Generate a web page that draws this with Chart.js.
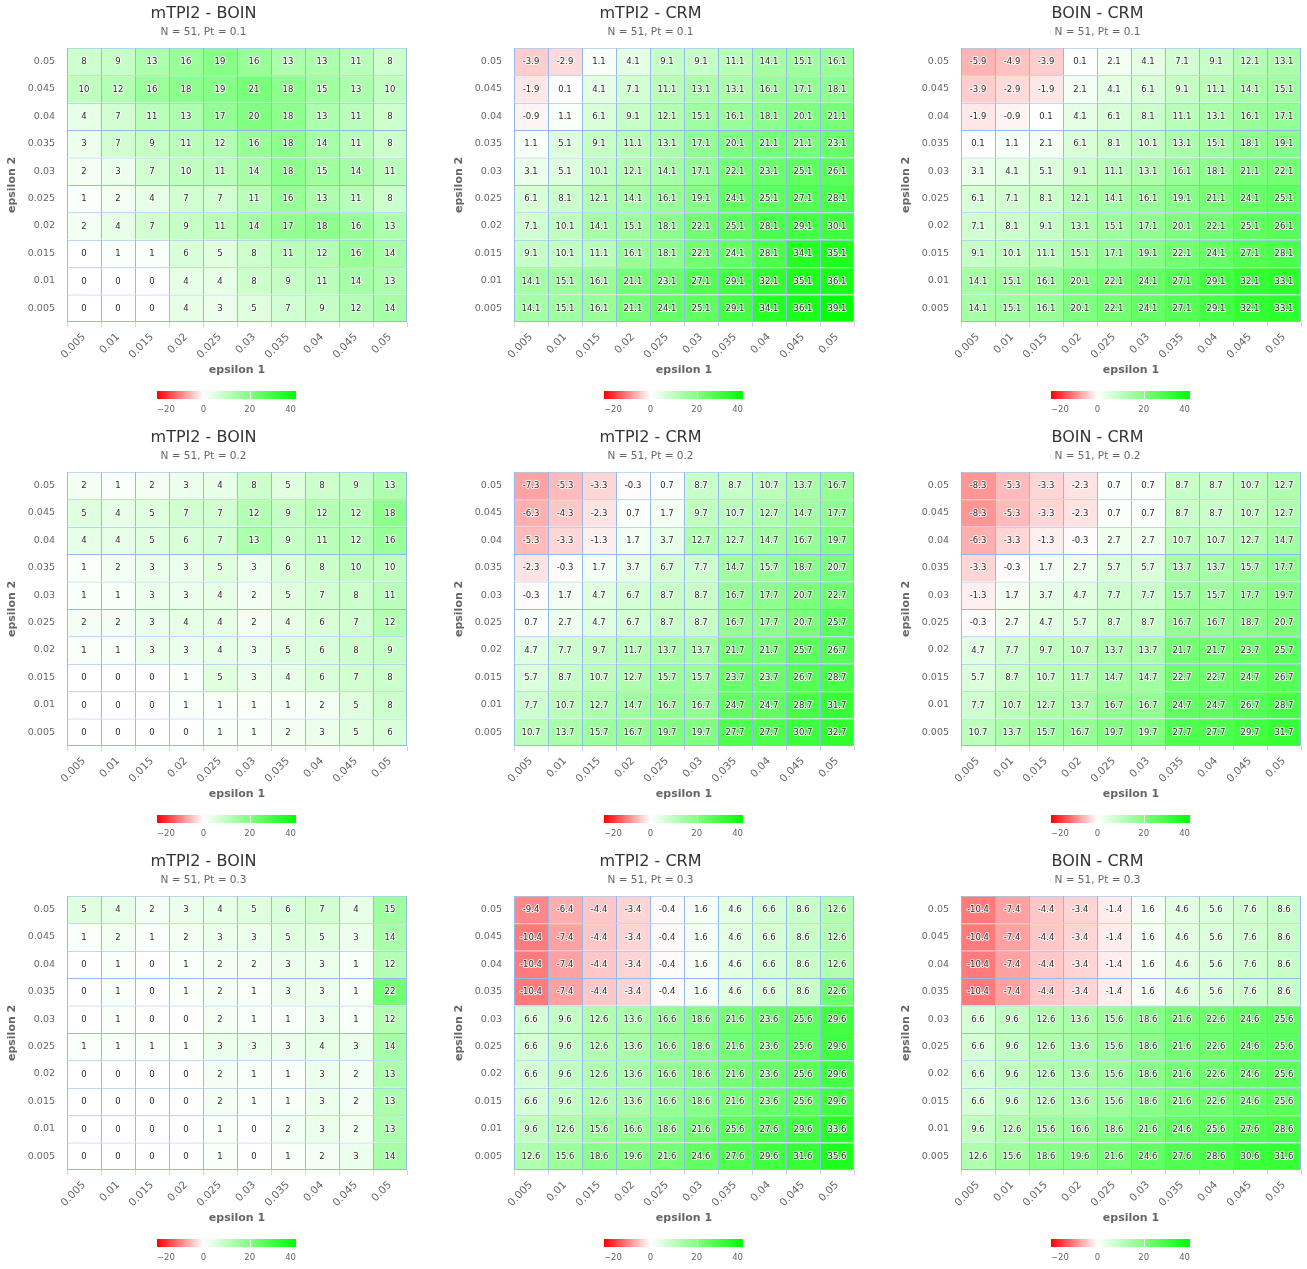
<!DOCTYPE html>
<html>
<head>
<meta charset="utf-8">
<script src="https://cdn.jsdelivr.net/npm/chart.js@4.4.1/dist/chart.umd.min.js"></script>
<style>
  html, body { margin: 0; padding: 0; background: #fff; overflow: hidden; width: 1307px; height: 1269px; }
  canvas { position: absolute; }
</style>
</head>
<body>
<script>
// axis categories
const eps1 = ['0.005', '0.01', '0.015', '0.02', '0.025', '0.03', '0.035', '0.04', '0.045', '0.05'];
const eps2 = ['0.005', '0.01', '0.015', '0.02', '0.025', '0.03', '0.035', '0.04', '0.045', '0.05']; // bottom -> top
const legendTicks = [-20, 0, 20, 40];
const colorMin = -20, colorMax = 40;

const titles = ['mTPI2 - BOIN', 'mTPI2 - CRM', 'BOIN - CRM'];
const subtitles = ['N = 51, Pt = 0.1', 'N = 51, Pt = 0.2', 'N = 51, Pt = 0.3'];

// rows listed top (epsilon 2 = 0.05) to bottom (0.005)
const mtpiBoin1 = [
  [8, 9, 13, 16, 19, 16, 13, 13, 11, 8],
  [10, 12, 16, 18, 19, 21, 18, 15, 13, 10],
  [4, 7, 11, 13, 17, 20, 18, 13, 11, 8],
  [3, 7, 9, 11, 12, 16, 18, 14, 11, 8],
  [2, 3, 7, 10, 11, 14, 18, 15, 14, 11],
  [1, 2, 4, 7, 7, 11, 16, 13, 11, 8],
  [2, 4, 7, 9, 11, 14, 17, 18, 16, 13],
  [0, 1, 1, 6, 5, 8, 11, 12, 16, 14],
  [0, 0, 0, 4, 4, 8, 9, 11, 14, 13],
  [0, 0, 0, 4, 3, 5, 7, 9, 12, 14]
];
const mtpiCrm1 = [
  [-3.9, -2.9, 1.1, 4.1, 9.1, 9.1, 11.1, 14.1, 15.1, 16.1],
  [-1.9, 0.1, 4.1, 7.1, 11.1, 13.1, 13.1, 16.1, 17.1, 18.1],
  [-0.9, 1.1, 6.1, 9.1, 12.1, 15.1, 16.1, 18.1, 20.1, 21.1],
  [1.1, 5.1, 9.1, 11.1, 13.1, 17.1, 20.1, 21.1, 21.1, 23.1],
  [3.1, 5.1, 10.1, 12.1, 14.1, 17.1, 22.1, 23.1, 25.1, 26.1],
  [6.1, 8.1, 12.1, 14.1, 16.1, 19.1, 24.1, 25.1, 27.1, 28.1],
  [7.1, 10.1, 14.1, 15.1, 18.1, 22.1, 25.1, 28.1, 29.1, 30.1],
  [9.1, 10.1, 11.1, 16.1, 18.1, 22.1, 24.1, 28.1, 34.1, 35.1],
  [14.1, 15.1, 16.1, 21.1, 23.1, 27.1, 29.1, 32.1, 35.1, 36.1],
  [14.1, 15.1, 16.1, 21.1, 24.1, 25.1, 29.1, 34.1, 36.1, 39.1]
];
const boinCrm1 = [
  [-5.9, -4.9, -3.9, 0.1, 2.1, 4.1, 7.1, 9.1, 12.1, 13.1],
  [-3.9, -2.9, -1.9, 2.1, 4.1, 6.1, 9.1, 11.1, 14.1, 15.1],
  [-1.9, -0.9, 0.1, 4.1, 6.1, 8.1, 11.1, 13.1, 16.1, 17.1],
  [0.1, 1.1, 2.1, 6.1, 8.1, 10.1, 13.1, 15.1, 18.1, 19.1],
  [3.1, 4.1, 5.1, 9.1, 11.1, 13.1, 16.1, 18.1, 21.1, 22.1],
  [6.1, 7.1, 8.1, 12.1, 14.1, 16.1, 19.1, 21.1, 24.1, 25.1],
  [7.1, 8.1, 9.1, 13.1, 15.1, 17.1, 20.1, 22.1, 25.1, 26.1],
  [9.1, 10.1, 11.1, 15.1, 17.1, 19.1, 22.1, 24.1, 27.1, 28.1],
  [14.1, 15.1, 16.1, 20.1, 22.1, 24.1, 27.1, 29.1, 32.1, 33.1],
  [14.1, 15.1, 16.1, 20.1, 22.1, 24.1, 27.1, 29.1, 32.1, 33.1]
];
const mtpiBoin2 = [
  [2, 1, 2, 3, 4, 8, 5, 8, 9, 13],
  [5, 4, 5, 7, 7, 12, 9, 12, 12, 18],
  [4, 4, 5, 6, 7, 13, 9, 11, 12, 16],
  [1, 2, 3, 3, 5, 3, 6, 8, 10, 10],
  [1, 1, 3, 3, 4, 2, 5, 7, 8, 11],
  [2, 2, 3, 4, 4, 2, 4, 6, 7, 12],
  [1, 1, 3, 3, 4, 3, 5, 6, 8, 9],
  [0, 0, 0, 1, 5, 3, 4, 6, 7, 8],
  [0, 0, 0, 1, 1, 1, 1, 2, 5, 8],
  [0, 0, 0, 0, 1, 1, 2, 3, 5, 6]
];
const mtpiCrm2 = [
  [-7.3, -5.3, -3.3, -0.3, 0.7, 8.7, 8.7, 10.7, 13.7, 16.7],
  [-6.3, -4.3, -2.3, 0.7, 1.7, 9.7, 10.7, 12.7, 14.7, 17.7],
  [-5.3, -3.3, -1.3, 1.7, 3.7, 12.7, 12.7, 14.7, 16.7, 19.7],
  [-2.3, -0.3, 1.7, 3.7, 6.7, 7.7, 14.7, 15.7, 18.7, 20.7],
  [-0.3, 1.7, 4.7, 6.7, 8.7, 8.7, 16.7, 17.7, 20.7, 22.7],
  [0.7, 2.7, 4.7, 6.7, 8.7, 8.7, 16.7, 17.7, 20.7, 25.7],
  [4.7, 7.7, 9.7, 11.7, 13.7, 13.7, 21.7, 21.7, 25.7, 26.7],
  [5.7, 8.7, 10.7, 12.7, 15.7, 15.7, 23.7, 23.7, 26.7, 28.7],
  [7.7, 10.7, 12.7, 14.7, 16.7, 16.7, 24.7, 24.7, 28.7, 31.7],
  [10.7, 13.7, 15.7, 16.7, 19.7, 19.7, 27.7, 27.7, 30.7, 32.7]
];
const boinCrm2 = [
  [-8.3, -5.3, -3.3, -2.3, 0.7, 0.7, 8.7, 8.7, 10.7, 12.7],
  [-8.3, -5.3, -3.3, -2.3, 0.7, 0.7, 8.7, 8.7, 10.7, 12.7],
  [-6.3, -3.3, -1.3, -0.3, 2.7, 2.7, 10.7, 10.7, 12.7, 14.7],
  [-3.3, -0.3, 1.7, 2.7, 5.7, 5.7, 13.7, 13.7, 15.7, 17.7],
  [-1.3, 1.7, 3.7, 4.7, 7.7, 7.7, 15.7, 15.7, 17.7, 19.7],
  [-0.3, 2.7, 4.7, 5.7, 8.7, 8.7, 16.7, 16.7, 18.7, 20.7],
  [4.7, 7.7, 9.7, 10.7, 13.7, 13.7, 21.7, 21.7, 23.7, 25.7],
  [5.7, 8.7, 10.7, 11.7, 14.7, 14.7, 22.7, 22.7, 24.7, 26.7],
  [7.7, 10.7, 12.7, 13.7, 16.7, 16.7, 24.7, 24.7, 26.7, 28.7],
  [10.7, 13.7, 15.7, 16.7, 19.7, 19.7, 27.7, 27.7, 29.7, 31.7]
];
const mtpiBoin3 = [
  [5, 4, 2, 3, 4, 5, 6, 7, 4, 15],
  [1, 2, 1, 2, 3, 3, 5, 5, 3, 14],
  [0, 1, 0, 1, 2, 2, 3, 3, 1, 12],
  [0, 1, 0, 1, 2, 1, 3, 3, 1, 22],
  [0, 1, 0, 0, 2, 1, 1, 3, 1, 12],
  [1, 1, 1, 1, 3, 3, 3, 4, 3, 14],
  [0, 0, 0, 0, 2, 1, 1, 3, 2, 13],
  [0, 0, 0, 0, 2, 1, 1, 3, 2, 13],
  [0, 0, 0, 0, 1, 0, 2, 3, 2, 13],
  [0, 0, 0, 0, 1, 0, 1, 2, 3, 14]
];
const mtpiCrm3 = [
  [-9.4, -6.4, -4.4, -3.4, -0.4, 1.6, 4.6, 6.6, 8.6, 12.6],
  [-10.4, -7.4, -4.4, -3.4, -0.4, 1.6, 4.6, 6.6, 8.6, 12.6],
  [-10.4, -7.4, -4.4, -3.4, -0.4, 1.6, 4.6, 6.6, 8.6, 12.6],
  [-10.4, -7.4, -4.4, -3.4, -0.4, 1.6, 4.6, 6.6, 8.6, 22.6],
  [6.6, 9.6, 12.6, 13.6, 16.6, 18.6, 21.6, 23.6, 25.6, 29.6],
  [6.6, 9.6, 12.6, 13.6, 16.6, 18.6, 21.6, 23.6, 25.6, 29.6],
  [6.6, 9.6, 12.6, 13.6, 16.6, 18.6, 21.6, 23.6, 25.6, 29.6],
  [6.6, 9.6, 12.6, 13.6, 16.6, 18.6, 21.6, 23.6, 25.6, 29.6],
  [9.6, 12.6, 15.6, 16.6, 18.6, 21.6, 25.6, 27.6, 29.6, 33.6],
  [12.6, 15.6, 18.6, 19.6, 21.6, 24.6, 27.6, 29.6, 31.6, 35.6]
];
const boinCrm3 = [
  [-10.4, -7.4, -4.4, -3.4, -1.4, 1.6, 4.6, 5.6, 7.6, 8.6],
  [-10.4, -7.4, -4.4, -3.4, -1.4, 1.6, 4.6, 5.6, 7.6, 8.6],
  [-10.4, -7.4, -4.4, -3.4, -1.4, 1.6, 4.6, 5.6, 7.6, 8.6],
  [-10.4, -7.4, -4.4, -3.4, -1.4, 1.6, 4.6, 5.6, 7.6, 8.6],
  [6.6, 9.6, 12.6, 13.6, 15.6, 18.6, 21.6, 22.6, 24.6, 25.6],
  [6.6, 9.6, 12.6, 13.6, 15.6, 18.6, 21.6, 22.6, 24.6, 25.6],
  [6.6, 9.6, 12.6, 13.6, 15.6, 18.6, 21.6, 22.6, 24.6, 25.6],
  [6.6, 9.6, 12.6, 13.6, 15.6, 18.6, 21.6, 22.6, 24.6, 25.6],
  [9.6, 12.6, 15.6, 16.6, 18.6, 21.6, 24.6, 25.6, 27.6, 28.6],
  [12.6, 15.6, 18.6, 19.6, 21.6, 24.6, 27.6, 28.6, 30.6, 31.6]
];

const grids = [
  [mtpiBoin1, mtpiCrm1, boinCrm1],
  [mtpiBoin2, mtpiCrm2, boinCrm2],
  [mtpiBoin3, mtpiCrm3, boinCrm3]
];

const FONT = '"DejaVu Sans", Verdana, sans-serif';
const cellBorder = '#94b9ec';

function cellColor(v) {
  let r, g, b;
  if (v < 0) {
    const t = Math.min(1, v / colorMin);
    r = 255; g = b = Math.round(255 * (1 - t));
  } else {
    const t = Math.min(1, v / colorMax);
    r = b = Math.round(255 * (1 - t)); g = 255;
  }
  return 'rgb(' + r + ',' + g + ',' + b + ')';
}

// value labels in the cells
const cellLabels = {
  id: 'cellLabels',
  afterDatasetsDraw(chart) {
    const ctx = chart.ctx;
    ctx.save();
    ctx.font = '8.5px ' + FONT;
    ctx.textAlign = 'center';
    ctx.textBaseline = 'middle';
    ctx.lineJoin = 'round';
    chart.data.datasets.forEach((ds, i) => {
      chart.getDatasetMeta(i).data.forEach((bar, j) => {
        const p = bar.getCenterPoint();
        const txt = String(ds.values[j]);
        ctx.strokeStyle = 'rgba(255,255,255,0.85)';
        ctx.lineWidth = 2;
        ctx.strokeText(txt, p.x, p.y + 0.5);
        ctx.fillStyle = '#2a2a2a';
        ctx.fillText(txt, p.x, p.y + 0.5);
      });
    });
    ctx.restore();
  }
};

// colour axis below the chart
const colorLegend = {
  id: 'colorLegend',
  afterDraw(chart) {
    const ctx = chart.ctx;
    const x0 = 157, x1 = 296, y0 = 391, h = 8;
    const px = v => x0 + (v - colorMin) / (colorMax - colorMin) * (x1 - x0);
    const grad = ctx.createLinearGradient(x0, 0, x1, 0);
    grad.addColorStop(0, cellColor(colorMin));
    grad.addColorStop((0 - colorMin) / (colorMax - colorMin), cellColor(0));
    grad.addColorStop(1, cellColor(colorMax));
    ctx.save();
    ctx.fillStyle = grad;
    ctx.fillRect(x0, y0, x1 - x0, h);
    ctx.fillStyle = '#ffffff';
    legendTicks.slice(1, -1).forEach(v => {
      ctx.fillRect(Math.round(px(v)), y0, 1, h);
    });
    ctx.font = '8.5px ' + FONT;
    ctx.fillStyle = '#666';
    ctx.textBaseline = 'middle';
    legendTicks.forEach((v, i) => {
      ctx.textAlign = i === 0 ? 'left' : (i === legendTicks.length - 1 ? 'right' : 'center');
      ctx.fillText(String(v).replace('-', '\u2212'), px(v), 410);
    });
    ctx.restore();
  }
};

function makeChart(rowIdx, colIdx) {
  const rows = grids[rowIdx][colIdx];
  const canvas = document.createElement('canvas');
  canvas.width = 447;
  canvas.height = 424;
  canvas.style.left = (colIdx * 447) + 'px';
  canvas.style.top = (rowIdx * 424) + 'px';
  document.body.appendChild(canvas);

  const datasets = rows.map((vals, r) => {
    const yIdx = rows.length - 1 - r;
    return {
      data: vals.map(() => [yIdx, yIdx + 1]),
      values: vals,
      backgroundColor: vals.map(cellColor),
      borderColor: cellBorder,
      borderWidth: ctx => ({
        left: 1,
        top: 1,
        right: ctx.dataIndex === vals.length - 1 ? 1 : 0,
        bottom: yIdx === 0 ? 1 : 0
      }),
      borderSkipped: false,
      inflateAmount: 0,
      grouped: false,
      barPercentage: 1,
      categoryPercentage: 1
    };
  });

  new Chart(canvas, {
    type: 'bar',
    data: { labels: eps1, datasets: datasets },
    options: {
      responsive: false,
      animation: false,
      events: [],
      layout: { padding: { left: 0, right: 40, top: 0, bottom: 46 } },
      plugins: {
        legend: { display: false },
        tooltip: { enabled: false },
        title: {
          display: true,
          text: titles[colIdx],
          color: '#333',
          font: { family: FONT, size: 16, weight: 'normal' },
          padding: { top: 4, bottom: 3 }
        },
        subtitle: {
          display: true,
          text: subtitles[rowIdx],
          color: '#666',
          font: { family: FONT, size: 10.5 },
          padding: { top: 0, bottom: 9 }
        }
      },
      scales: {
        x: {
          type: 'category',
          offset: true,
          grid: { offset: true, drawOnChartArea: false, drawTicks: true, tickLength: 5, color: '#ccd6eb' },
          border: { display: false },
          ticks: {
            autoSkip: false, maxRotation: 45, minRotation: 45, padding: 4,
            color: '#666', font: { family: FONT, size: 10.5 }
          },
          title: {
            display: true, text: 'epsilon 1', color: '#666',
            font: { family: FONT, size: 11, weight: 'bold' },
            padding: { top: 0, bottom: 1 }
          },
          afterFit: s => { s.height = 56; }
        },
        y: {
          type: 'linear',
          min: 0,
          max: eps2.length,
          grid: { display: false, drawTicks: false },
          border: { display: false },
          afterBuildTicks: s => { s.ticks = eps2.map((l, i) => ({ value: i + 0.5 })); },
          ticks: {
            autoSkip: false, padding: 12, color: '#666',
            font: { family: FONT, size: 9.5 },
            callback: v => eps2[Math.floor(v)]
          },
          title: {
            display: true, text: 'epsilon 2', color: '#666',
            font: { family: FONT, size: 11, weight: 'bold' },
            padding: { top: 6, bottom: 0 }
          },
          afterFit: s => { s.width = 67; }
        }
      }
    },
    plugins: [cellLabels, colorLegend]
  });
}

for (let r = 0; r < 3; r++) {
  for (let c = 0; c < 3; c++) makeChart(r, c);
}
</script>
</body>
</html>
